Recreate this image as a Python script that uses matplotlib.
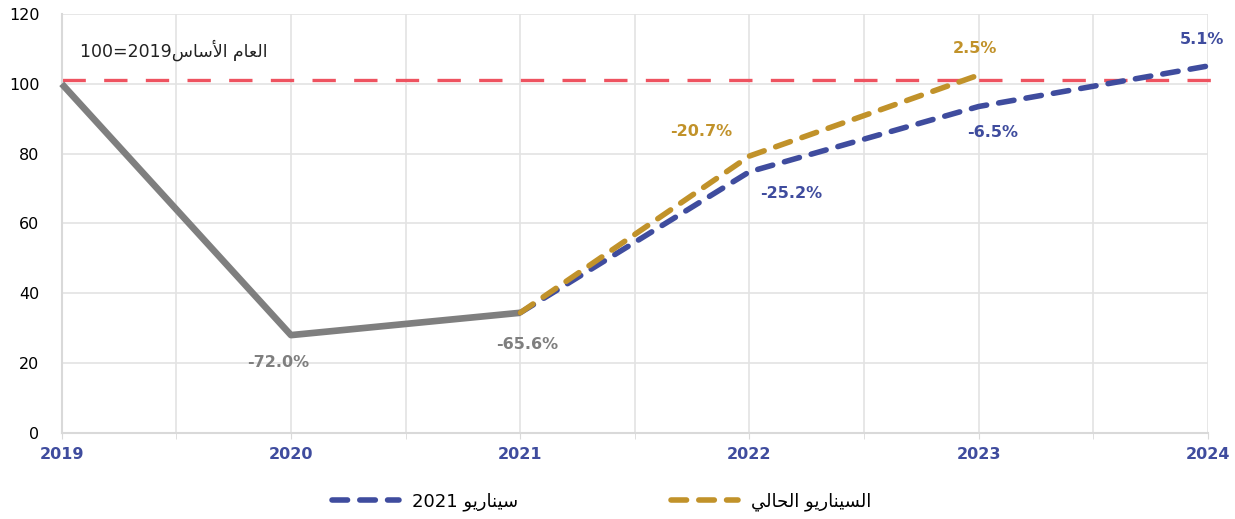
import matplotlib
matplotlib.use('Agg')
import matplotlib.pyplot as plt

plt.rcParams['font.family'] = ['DejaVu Sans']

# data
years       = [2019, 2020, 2021, 2022, 2023, 2024]
actual_x    = [2019, 2020, 2021]
actual_y    = [100, 28.0, 34.4]
scen21_x    = [2021, 2022, 2023, 2024]
scen21_y    = [34.4, 74.8, 93.5, 105.1]
current_x   = [2021, 2022, 2023]
current_y   = [34.4, 79.3, 102.5]
base_level  = 101

actual_lbl  = ["-72.0%", "-65.6%"]
scen21_lbl  = ["-25.2%", "-6.5%", "5.1%"]
current_lbl = ["-20.7%", "2.5%"]

# arabic text in visual (shaped, left-to-right) order
base_txt    = "100=2019" + "\uFEB1\uFE8E\uFEB3\uFEF7\uFE8D" + " " + "\uFEE1\uFE8E\uFECC\uFEDF\uFE8D"
scen21_name = "2021 " + "\uFEEE\uFEF3\uFEAD\uFE8E\uFEE8\uFEF4\uFEB3"
current_name = "\uFEF2\uFEDF\uFE8E\uFEA4\uFEDF\uFE8D" + " " + "\uFEEE\uFEF3\uFEAD\uFE8E\uFEE8\uFEF4\uFEB4\uFEDF\uFE8D"

blue = '#3F4C9E'
gold = '#C1922A'
gray = '#7F7F7F'
red  = '#EE5360'

fig = plt.figure(figsize=(12.35, 5.19), dpi=100)
ax = fig.add_axes([0.050, 0.166, 0.928, 0.807])

ax.plot(actual_x, actual_y, color=gray, lw=4.8, solid_capstyle='butt', zorder=3, clip_on=False)
ax.plot(scen21_x, scen21_y, color=blue, lw=4, dashes=(2.8, 2.2), dash_capstyle='round',
        label=scen21_name, zorder=4, clip_on=False)
ax.plot(current_x, current_y, color=gold, lw=4, dashes=(2.8, 2.2), dash_capstyle='round',
        label=current_name, zorder=5, clip_on=False)
ax.axhline(base_level, color=red, lw=2.4, dashes=(7, 5.5), zorder=2, clip_on=False, xmax=1.01)

# data labels
for x, y, t, off in zip(actual_x[1:], actual_y[1:], actual_lbl, [(-9, -20), (5, -23)]):
    ax.annotate(t, (x, y), xytext=off, textcoords='offset points', ha='center', va='center',
                color=gray, fontsize=11.5, fontweight='bold')
for x, y, t, off in zip(scen21_x[1:], scen21_y[1:], scen21_lbl, [(30, -16), (10, -19), (-4, 19)]):
    ax.annotate(t, (x, y), xytext=off, textcoords='offset points', ha='center', va='center',
                color=blue, fontsize=11.5, fontweight='bold', annotation_clip=False)
for x, y, t, off in zip(current_x[1:], current_y[1:], current_lbl, [(-35, 18), (-3, 19)]):
    ax.annotate(t, (x, y), xytext=off, textcoords='offset points', ha='center', va='center',
                color=gold, fontsize=11.5, fontweight='bold')

ax.text(2019.08, 109.5, base_txt, fontsize=12.5, color='#222222', ha='left', va='center')

ax.set_xlim(2019, 2024)
ax.set_ylim(0, 120)
ax.set_yticks(range(0, 121, 20))
ax.set_xticks(years)
ax.set_xticks([y + 0.5 for y in years[:-1]], minor=True)
ax.set_xticklabels([str(y) for y in years], color=blue, fontweight='bold', fontsize=11.5)
ax.tick_params(axis='y', labelsize=11.5, length=0, pad=16)
ax.tick_params(axis='x', which='both', length=4, color='#d9d9d9', pad=6)
ax.grid(True, which='both', color='#e3e3e3', lw=1.2)
ax.set_axisbelow(True)
for s in ['top', 'right']:
    ax.spines[s].set_visible(False)
ax.spines['left'].set_color('#d9d9d9')
ax.spines['bottom'].set_color('#d9d9d9')
ax.spines['left'].set_linewidth(1.5)
ax.spines['bottom'].set_linewidth(1.5)

fig.legend(loc='center', bbox_to_anchor=(0.487, 0.033), ncol=2, frameon=False, fontsize=13,
           handlelength=3.7, columnspacing=8.5, handletextpad=0.7)

fig.savefig("out.png", dpi=100)
